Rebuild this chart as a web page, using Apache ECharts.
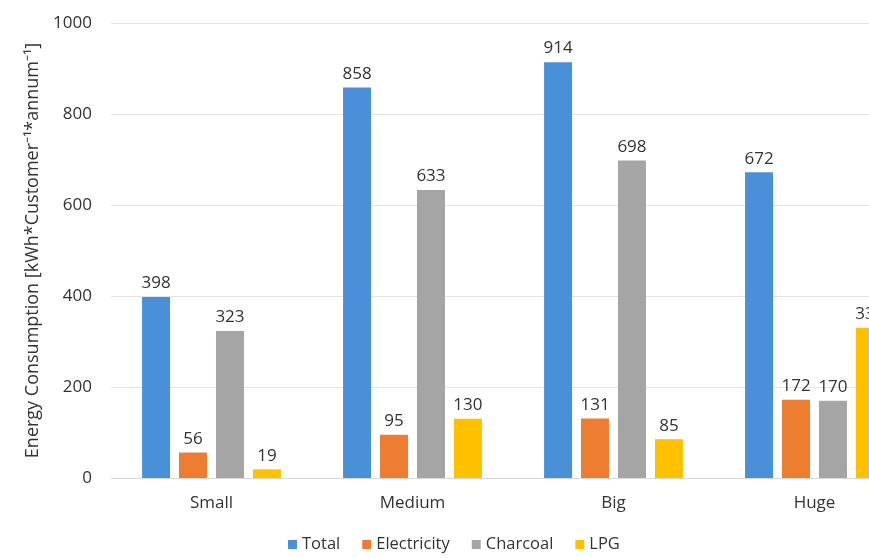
<!DOCTYPE html>
<html>
<head>
<meta charset="utf-8">
<script src="https://cdn.jsdelivr.net/npm/echarts@6/dist/echarts.min.js"></script>
<style>
  html, body { margin: 0; padding: 0; background: #fff; overflow: hidden; }
  /* chart is wider than the window, the last bar is cut off like the reference */
  #chart { width: 915px; height: 558px; }
</style>
</head>
<body>
<div id="chart"></div>
<script>
const categories = ['Small', 'Medium', 'Big', 'Huge']
const totalData = [398, 858, 914, 672]
const electricityData = [56, 95, 131, 172]
const charcoalData = [323, 633, 698, 170]
const lpgData = [19, 130, 85, 330]

const chart = echarts.init(document.getElementById('chart'))

// value label above each bar
const barLabel = {
  show: true,
  position: 'top',
  distance: 5,
  color: '#333',
  fontSize: 17,
  fontFamily: 'Open Sans'
}

function makeSeries (name, data, color) {
  return {
    name: name,
    type: 'bar',
    barWidth: 28,
    barGap: '32%',
    itemStyle: { color: color },
    label: barLabel,
    data: data
  }
}

chart.setOption({
  animation: false,
  textStyle: { fontFamily: 'Open Sans' },
  legend: {
    bottom: 0,
    left: 283,
    itemWidth: 9,
    itemHeight: 9,
    itemGap: 22,
    icon: 'rect',
    textStyle: { color: '#333', fontSize: 16.5 },
    data: ['Total', 'Electricity', 'Charcoal', 'LPG']
  },
  grid: {
    left: 111,
    right: 0,
    top: 23,
    bottom: 80,
    containLabel: false
  },
  xAxis: {
    type: 'category',
    data: categories,
    axisLine: { lineStyle: { color: '#d9d9d9', width: 1 } },
    axisTick: { show: false },
    axisLabel: { color: '#333', fontSize: 17, margin: 17 }
  },
  yAxis: {
    type: 'value',
    min: 0,
    max: 1000,
    interval: 200,
    name: 'Energy Consumption [kWh*Customer⁻¹*annum⁻¹]',
    nameLocation: 'middle',
    nameRotate: 90,
    nameGap: 68,
    nameTextStyle: { color: '#333', fontSize: 18 },
    axisLine: { show: false },
    axisTick: { show: false },
    axisLabel: {
      color: '#333',
      fontSize: 17,
      margin: 19,
      formatter: function (v) { return String(v) }
    },
    splitLine: { lineStyle: { color: '#e3e3e3', width: 1 } }
  },
  series: [
    makeSeries('Total', totalData, '#4a90d9'),
    makeSeries('Electricity', electricityData, '#ed7d31'),
    makeSeries('Charcoal', charcoalData, '#a5a5a5'),
    makeSeries('LPG', lpgData, '#ffc000')
  ]
})
</script>
</body>
</html>
